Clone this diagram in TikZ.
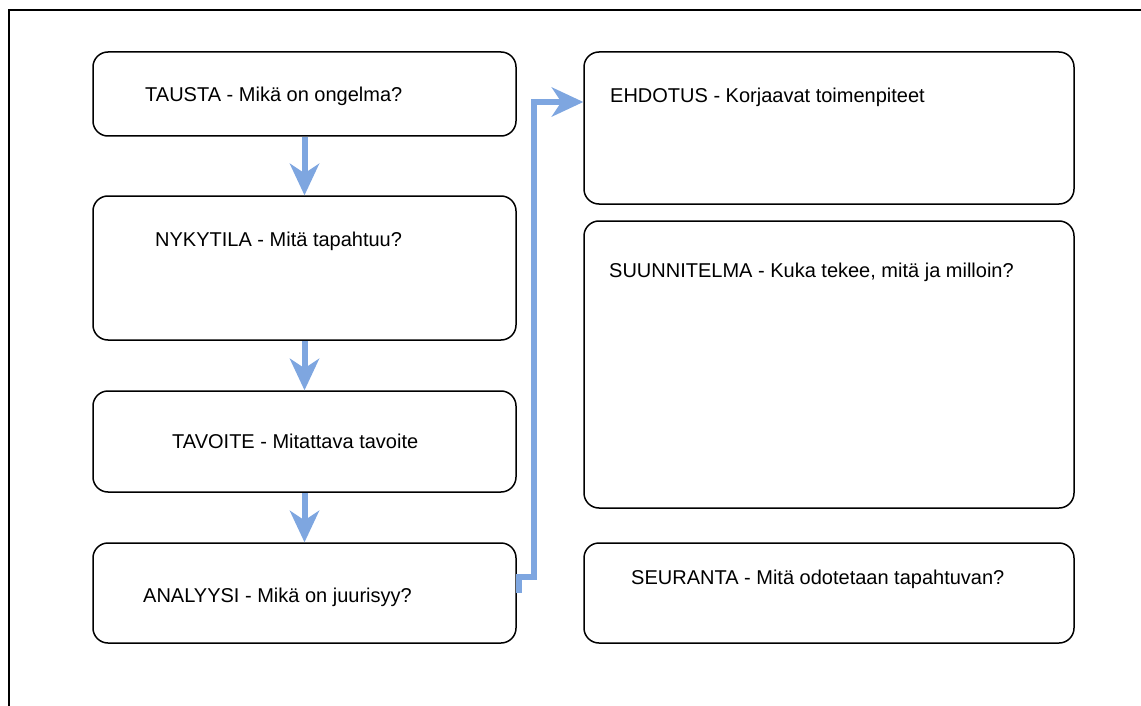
\documentclass[tikz,border=0pt]{standalone}
\usepackage{fontspec}
\setmainfont{Liberation Sans}
\usetikzlibrary{arrows.meta}
\definecolor{flowblue}{HTML}{7EA6E0}
\begin{document}
\begin{tikzpicture}[x=1pt,y=-1pt,
        box/.style={draw,line width=1.5pt,rounded corners=15pt,inner sep=0pt},
        caption/.style={anchor=base west,inner sep=0pt,font=\fontsize{20}{24}\selectfont},
        flow/.style={flowblue,line width=6pt,-{Stealth[length=32pt,width=30pt,inset=10pt,line width=0pt]}}]
        \useasboundingbox (0,0) rectangle (1141,706);
        \draw[line width=2pt] (9,706) -- (9,10) -- (1141,10);
        \node[box,minimum width=423pt,minimum height=84pt] (tausta) at (304.5,94) {};
        \node[box,minimum width=423pt,minimum height=144pt] (nykytila) at (304.5,268) {};
        \node[box,minimum width=423pt,minimum height=101pt] (tavoite) at (304.5,441.5) {};
        \node[box,minimum width=423pt,minimum height=100pt] (analyysi) at (304.5,593) {};
        \node[box,minimum width=490pt,minimum height=152pt] (ehdotus) at (829,128) {};
        \node[box,minimum width=490pt,minimum height=287pt] (suunnitelma) at (829,364.5) {};
        \node[box,minimum width=490pt,minimum height=100pt] (seuranta) at (829,593) {};
        \node[caption] (tausta-t) at (145,102) {TAUSTA - Mikä on ongelma?};
        \node[caption] (nykytila-t) at (155,246) {NYKYTILA - Mitä tapahtuu?};
        \node[caption] (tavoite-t) at (172,448) {TAVOITE - Mitattava tavoite};
        \node[caption] (analyysi-t) at (143,602) {ANALYYSI - Mikä on juurisyy?};
        \node[caption] (ehdotus-t) at (610,103) {EHDOTUS - Korjaavat toimenpiteet};
        \node[caption] (suunnitelma-t) at (609,277) {SUUNNITELMA - Kuka tekee, mitä ja milloin?};
        \node[caption] (seuranta-t) at (631,584) {SEURANTA - Mitä odotetaan tapahtuvan?};
        \draw[flow] (tausta) -- (nykytila);
        \draw[flow] (nykytila) -- (tavoite);
        \draw[flow] (tavoite) -- (analyysi);
        \coordinate (bend) at (533.5,577);
        \draw[flow] ([xshift=2pt]analyysi.east) |- (bend) |- ([yshift=26pt]ehdotus.west);
    \end{tikzpicture}
\end{document}
